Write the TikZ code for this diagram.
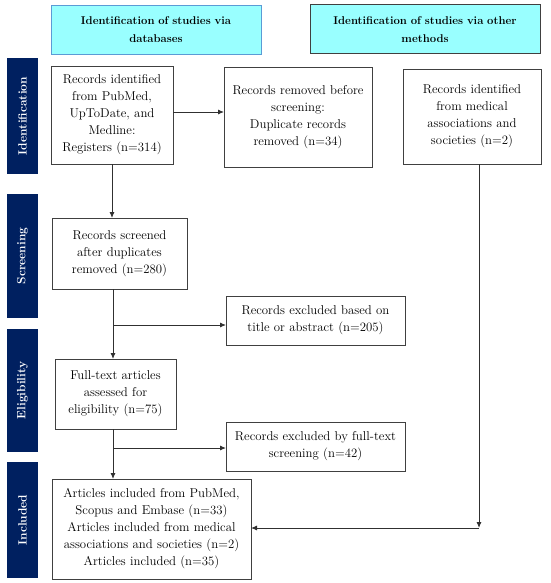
\documentclass[tikz,border=0pt]{standalone}
\usetikzlibrary{arrows.meta}
\definecolor{navy}{HTML}{002060}
\definecolor{hcyan}{HTML}{99FFFF}
\definecolor{hblue}{HTML}{5B9BD5}
\definecolor{boxgray}{HTML}{404040}
\definecolor{linegray}{HTML}{303030}
\begin{document}
\begin{tikzpicture}[x=1pt,y=-1pt,
  bw/.style 2 args={minimum width=#1pt, text width=#1pt, minimum height=#2pt},
  box/.style={draw=boxgray, line width=0.9pt, align=center, inner sep=0pt, outer sep=0pt, font=\fontsize{12.8}{17}\selectfont},
  hdr/.style={box, fill=hcyan, font=\bfseries\fontsize{11.3}{18}\selectfont},
  side/.style={fill=navy, text=white, rotate=90, inner sep=0pt, minimum height=31pt, font=\bfseries\fontsize{12}{14}\selectfont},
  arr/.style={-{Latex[length=6pt,width=5pt]}, line width=0.9pt, draw=linegray}]
\useasboundingbox (0,0) rectangle (550,583);
% headers
\node[hdr, draw=hblue, bw={210}{49}] (h1) at (156,29.5) {Identification of studies via\\databases};
\node[hdr, line width=1pt, bw={230}{49}] (h2) at (425,29.5) {Identification of studies via other\\methods};
% side bars
\node[side, minimum width=116pt] (s1) at (22.5,116) {Identification};
\node[side, minimum width=124pt] (s2) at (22.5,256) {Screening};
\node[side, minimum width=123pt] (s3) at (22.5,390.5) {Eligibility};
\node[side, minimum width=116pt] (s4) at (22.5,520) {Included};
% boxes
\node[box, bw={122}{98}] (id) at (112,115) {Records identified\\from PubMed,\\UpToDate, and\\Medline:\\Registers (n=314)};
\node[box, bw={148}{100}] (rem) at (298,117) {Records removed before\\screening:\\Duplicate records\\removed (n=34)};
\node[box, bw={138}{95}] (oth) at (472,116.5) {Records identified\\from medical\\associations and\\societies (n=2)};
\node[box, bw={135}{71}] (scr) at (119.5,253.5) {Records screened\\after duplicates\\removed (n=280)};
\node[box, bw={179}{49}] (ex1) at (315.5,320.5) {Records excluded based on\\title or abstract (n=205)};
\node[box, bw={121}{70}] (ft) at (115.5,394) {Full-text articles\\assessed for\\eligibility (n=75)};
\node[box, bw={179}{49}] (ex2) at (315.5,446.5) {Records excluded by full-text\\screening (n=42)};
\node[box, bw={199}{100}] (inc) at (151.5,529) {Articles included from PubMed,\\Scopus and Embase (n=33)\\Articles included from medical\\associations and societies (n=2)\\Articles included (n=35)};
% connectors
\coordinate (c1) at (113,325);
\coordinate (c2) at (113,448);
\coordinate (c3) at (479,528);
\draw[arr] ([yshift=3pt]id.east) -- ([yshift=3pt]id.east -| rem.west);
\draw[arr] (id.south) -- (id.south |- scr.north);
\draw[arr] (scr.south -| c1) -- (c1 |- ft.north);
\draw[arr] (c1) -- (c1 -| ex1.west);
\draw[arr] (ft.south -| c2) -- (c2 |- inc.north);
\draw[arr] (c2) -- (c2 -| ex2.west);
\draw[arr] (oth.south -| c3) -- (c3);
\draw[arr] (c3) -- (c3 -| inc.east);
\end{tikzpicture}
\end{document}
